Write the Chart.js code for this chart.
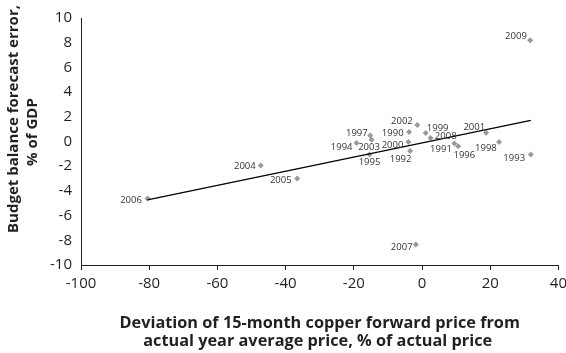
<!DOCTYPE html>
<html>
<head>
<meta charset="utf-8">
<script src="https://cdn.jsdelivr.net/npm/chart.js@4/dist/chart.umd.min.js"></script>
<style>
  html, body { margin: 0; padding: 0; background: #fff; overflow: hidden; }
  #wrap { position: relative; width: 566px; height: 353px; overflow: hidden; }
</style>
</head>
<body>
<div id="wrap"><canvas id="c" width="572" height="353"></canvas></div>
<script>
// Budget balance forecast errors against copper forward price deviations, 1990-2009
const years = [1990, 1991, 1992, 1993, 1994, 1995, 1996, 1997, 1998, 1999,
               2000, 2001, 2002, 2003, 2004, 2005, 2006, 2007, 2008, 2009];
const forwardDeviation = [-3.8, 9.5, -3.5, 31.9, -19.2, -15.4, 10.6, -15.2, 22.6, 1.1,
                          -4.0, 18.8, -1.4, -14.8, -47.3, -36.6, -80.5, -1.8, 2.5, 31.7];
const budgetError = [0.76, -0.17, -0.76, -1.05, -0.12, -1.05, -0.39, 0.49, -0.04, 0.68,
                     -0.04, 0.70, 1.34, 0.14, -1.95, -2.99, -4.61, -8.33, 0.28, 8.19];
const xTicks = [-100, -80, -60, -40, -20, 0, 20, 40];
const yTicks = [-10, -8, -6, -4, -2, 0, 2, 4, 6, 8, 10];
const xTitle = ['Deviation of 15-month copper forward price from',
                'actual year average price, % of actual price'];
const yTitle = ['Budget balance forecast error,', '% of GDP'];

const INK = '#231f20';
const FONT = "'Open Sans', 'Liberation Sans', sans-serif";

// Least-squares fit, drawn across the range of observed x
function linearFit(xs, ys) {
  const n = xs.length;
  const mx = xs.reduce((a, b) => a + b, 0) / n;
  const my = ys.reduce((a, b) => a + b, 0) / n;
  let sxy = 0, sxx = 0;
  for (let i = 0; i < n; i++) {
    sxy += (xs[i] - mx) * (ys[i] - my);
    sxx += (xs[i] - mx) * (xs[i] - mx);
  }
  const slope = sxy / sxx;
  return { slope, intercept: my - slope * mx };
}
const fit = linearFit(forwardDeviation, budgetError);
const xMin = Math.min(...forwardDeviation);
const xMax = Math.max(...forwardDeviation);
const trendPoints = [xMin, xMax].map(x => ({ x, y: fit.intercept + fit.slope * x }));

const points = years.map((yr, i) => ({ x: forwardDeviation[i], y: budgetError[i], year: yr }));

// Where each year label sits relative to its marker
const labelPlacement = {
  default: { align: 'right', dx: -5, dy: 2 },
  2002: { align: 'right', dx: -4.5, dy: -3.5 },
  1997: { align: 'right', dx: -2.5, dy: -2.5 },
  1994: { align: 'right', dx: -4, dy: 4 },
  2003: { align: 'center', dx: -2.5, dy: 8 },
  1995: { align: 'center', dx: 0, dy: 8 },
  1990: { align: 'right', dx: -5.5, dy: 1.5 },
  2000: { align: 'right', dx: -5, dy: 3.3 },
  1992: { align: 'center', dx: -9.5, dy: 8.3 },
  1999: { align: 'left', dx: 1, dy: -5.3 },
  2008: { align: 'left', dx: 4.3, dy: -2 },
  1991: { align: 'right', dx: -2.6, dy: 5.6 },
  1996: { align: 'center', dx: 6.2, dy: 9 },
  2001: { align: 'right', dx: -1, dy: -5.7 },
  1998: { align: 'right', dx: -2.3, dy: 6.7 },
  1993: { align: 'right', dx: -5.7, dy: 4 },
  2009: { align: 'right', dx: -3.3, dy: -4 },
  2007: { align: 'right', dx: -3.3, dy: 2.7 },
  2006: { align: 'right', dx: -5.6, dy: 2 },
  2005: { align: 'right', dx: -5.6, dy: 2 },
  2004: { align: 'right', dx: -5, dy: 1 }
};

const yearLabels = {
  id: 'yearLabels',
  afterDatasetsDraw(chart) {
    const meta = chart.getDatasetMeta(1);
    const ctx = chart.ctx;
    ctx.save();
    ctx.font = '9.5px ' + FONT;
    ctx.fillStyle = '#333333';
    ctx.textBaseline = 'middle';
    meta.data.forEach((el, i) => {
      const yr = points[i].year;
      const p = labelPlacement[yr] || labelPlacement.default;
      ctx.textAlign = p.align;
      ctx.fillText(String(yr), el.x + p.dx, el.y + p.dy);
    });
    ctx.restore();
  }
};

const axisTitles = {
  id: 'axisTitles',
  afterDraw(chart) {
    const ctx = chart.ctx;
    const area = chart.chartArea;
    ctx.save();
    ctx.fillStyle = INK;
    ctx.textAlign = 'center';
    ctx.textBaseline = 'middle';
    const cx = (area.left + area.right) / 2;
    ctx.font = 'bold 16.3px ' + FONT;
    ctx.fillText(xTitle[0], cx, 323);
    ctx.fillText(xTitle[1], cx - 2, 341);
    ctx.font = 'bold 15px ' + FONT;
    ctx.save();
    ctx.translate(14, 119);
    ctx.rotate(-Math.PI / 2);
    ctx.fillText(yTitle[0], 0, 0);
    ctx.restore();
    ctx.save();
    ctx.translate(33, 132);
    ctx.rotate(-Math.PI / 2);
    ctx.fillText(yTitle[1], 0, 0);
    ctx.restore();
    ctx.restore();
  }
};

new Chart(document.getElementById('c'), {
  type: 'scatter',
  data: {
    datasets: [
      {
        type: 'line',
        data: trendPoints,
        borderColor: '#000000',
        borderWidth: 1.3,
        pointRadius: 0,
        fill: false
      },
      {
        data: points,
        pointStyle: 'rectRot',
        pointRadius: 3,
        backgroundColor: '#9a9a9a',
        borderColor: '#9a9a9a',
        borderWidth: 0
      }
    ]
  },
  options: {
    responsive: false,
    animation: false,
    devicePixelRatio: 1,
    layout: { padding: { left: 0, right: 0, top: 14, bottom: 0 } },
    plugins: { legend: { display: false }, tooltip: { enabled: false } },
    scales: {
      x: {
        type: 'linear',
        min: xTicks[0],
        max: xTicks[xTicks.length - 1],
        afterBuildTicks: s => { s.ticks = xTicks.map(v => ({ value: v })); },
        afterFit: s => { s.height = 88; },
        grid: { drawOnChartArea: false, drawTicks: true, tickLength: 5, color: INK, lineWidth: 1 },
        border: { display: true, color: INK, width: 1 },
        ticks: { color: INK, font: { family: FONT, size: 15 }, padding: 5, maxRotation: 0 }
      },
      y: {
        type: 'linear',
        min: yTicks[0],
        max: yTicks[yTicks.length - 1],
        afterBuildTicks: s => { s.ticks = yTicks.map(v => ({ value: v })); },
        afterFit: s => { s.width = 81; },
        grid: { drawOnChartArea: false, drawTicks: false },
        border: { display: true, color: INK, width: 1 },
        ticks: { color: INK, font: { family: FONT, size: 15 }, padding: 9 }
      }
    }
  },
  plugins: [yearLabels, axisTitles]
});
</script>
</body>
</html>
